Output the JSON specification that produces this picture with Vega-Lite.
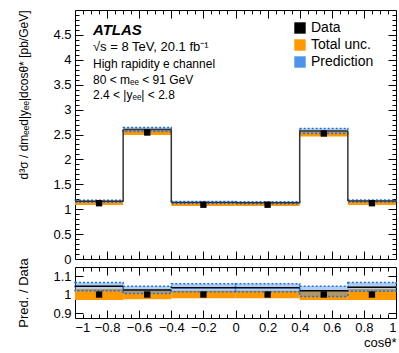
{
  "$schema": "https://vega.github.io/schema/vega-lite/v6.json",
  "padding": {"left": 17, "top": 9, "right": 6, "bottom": 2},
  "background": "white",
  "bounds": "flush",
  "config": {
    "font": "Liberation Sans",
    "view": {"stroke": "black", "strokeWidth": 1},
    "axis": {"labelFont": "Liberation Sans", "labelFontSize": 13, "labelColor": "black", "tickColor": "black", "domain": false, "grid": false, "titleFont": "Liberation Sans", "titleFontWeight": "normal", "titleColor": "black", "format": "~g", "minExtent": 0},
    "legend": {"labelFont": "Liberation Sans"}
  },
  "spacing": 8,
  "data": {"values": [
    {"lo": -1.0, "hi": -0.7, "c": -0.85, "data": 1.12, "unc_lo": 1.085, "unc_hi": 1.155, "pred": 1.16, "pred_lo": 1.14, "pred_hi": 1.18, "r_pred": 1.045, "r_pred_lo": 1.02, "r_pred_hi": 1.065, "r_unc_lo": 0.97, "r_unc_hi": 1.03},
    {"lo": -0.7, "hi": -0.4, "c": -0.55, "data": 2.54, "unc_lo": 2.49, "unc_hi": 2.59, "pred": 2.6, "pred_lo": 2.56, "pred_hi": 2.64, "r_pred": 1.024, "r_pred_lo": 1.005, "r_pred_hi": 1.045, "r_unc_lo": 0.975, "r_unc_hi": 1.02},
    {"lo": -0.4, "hi": 0.0, "c": -0.2, "data": 1.09, "unc_lo": 1.065, "unc_hi": 1.115, "pred": 1.135, "pred_lo": 1.115, "pred_hi": 1.155, "r_pred": 1.037, "r_pred_lo": 1.015, "r_pred_hi": 1.058, "r_unc_lo": 0.98, "r_unc_hi": 1.02},
    {"lo": 0.0, "hi": 0.4, "c": 0.2, "data": 1.09, "unc_lo": 1.065, "unc_hi": 1.115, "pred": 1.13, "pred_lo": 1.11, "pred_hi": 1.15, "r_pred": 1.037, "r_pred_lo": 1.015, "r_pred_hi": 1.058, "r_unc_lo": 0.98, "r_unc_hi": 1.02},
    {"lo": 0.4, "hi": 0.7, "c": 0.55, "data": 2.52, "unc_lo": 2.46, "unc_hi": 2.58, "pred": 2.57, "pred_lo": 2.52, "pred_hi": 2.62, "r_pred": 1.02, "r_pred_lo": 0.99, "r_pred_hi": 1.045, "r_unc_lo": 0.97, "r_unc_hi": 1.025},
    {"lo": 0.7, "hi": 1.0, "c": 0.85, "data": 1.12, "unc_lo": 1.085, "unc_hi": 1.155, "pred": 1.165, "pred_lo": 1.145, "pred_hi": 1.185, "r_pred": 1.04, "r_pred_lo": 1.018, "r_pred_hi": 1.065, "r_unc_lo": 0.97, "r_unc_hi": 1.03}
  ]},
  "vconcat": [
    {
      "width": 321,
      "height": 249,
      "resolve": {"axis": {"x": "independent", "y": "independent"}},
      "layer": [
        {
          "mark": {"type": "rect", "fill": "#ff9900", "stroke": null},
          "encoding": {
            "x": {"field": "lo", "type": "quantitative", "scale": {"domain": [-1, 1], "nice": false, "zero": false},
                  "axis": {"orient": "bottom", "values": [-0.8, -0.6, -0.4, -0.2, 0, 0.2, 0.4, 0.6, 0.8], "labels": false, "tickSize": -8, "title": null}},
            "x2": {"field": "hi"},
            "y": {"field": "unc_lo", "type": "quantitative", "scale": {"domain": [0, 5], "nice": false},
                  "axis": {"orient": "left", "values": [0, 0.5, 1, 1.5, 2, 2.5, 3, 3.5, 4, 4.5], "tickSize": -8, "labelPadding": 12, "title": "d³σ / dmₑₑd|yₑₑ|dcosθ*  [pb/GeV]", "titleFontSize": 12, "titleAnchor": "end", "titlePadding": 22}},
            "y2": {"field": "unc_hi"},
            "color": {"datum": "Total unc.", "type": "nominal", "scale": {"domain": ["Data", "Total unc.", "Prediction"], "range": ["black", "#ff9900", "#4d94ea"]},
                      "legend": {"orient": "none", "legendX": 218, "legendY": 11, "title": null, "symbolType": "square", "symbolSize": 130, "labelFontSize": 14, "rowPadding": 3, "symbolStrokeWidth": 0, "labelColor": "black", "labelOffset": 4}}
          }
        },
        {
          "mark": {"type": "rect", "fillOpacity": 0.45, "stroke": "#1f6fdf", "strokeDash": [2, 2], "strokeWidth": 1.5},
          "encoding": {
            "x": {"field": "lo", "type": "quantitative",
                  "axis": {"orient": "top", "values": [-0.8, -0.6, -0.4, -0.2, 0, 0.2, 0.4, 0.6, 0.8], "labels": false, "tickSize": -8, "title": null}},
            "x2": {"field": "hi"},
            "y": {"field": "pred_lo", "type": "quantitative",
                  "axis": {"orient": "right", "values": [0, 0.5, 1, 1.5, 2, 2.5, 3, 3.5, 4, 4.5], "labels": false, "tickSize": -8, "title": null}},
            "y2": {"field": "pred_hi"},
            "color": {"datum": "Prediction", "type": "nominal"}
          }
        },
        {
          "mark": {"type": "rule", "color": "#333", "strokeWidth": 1.5},
          "encoding": {
            "x": {"field": "lo", "type": "quantitative",
                  "axis": {"orient": "bottom", "values": [-0.95, -0.9, -0.85, -0.75, -0.7, -0.65, -0.55, -0.5, -0.45, -0.35, -0.3, -0.25, -0.15, -0.1, -0.05, 0.05, 0.1, 0.15, 0.25, 0.3, 0.35, 0.45, 0.5, 0.55, 0.65, 0.7, 0.75, 0.85, 0.9, 0.95], "labels": false, "tickSize": -4, "title": null}},
            "x2": {"field": "hi"},
            "y": {"field": "pred", "type": "quantitative",
                  "axis": {"orient": "left", "values": [0.1, 0.2, 0.3, 0.4, 0.6, 0.7, 0.8, 0.9, 1.1, 1.2, 1.3, 1.4, 1.6, 1.7, 1.8, 1.9, 2.1, 2.2, 2.3, 2.4, 2.6, 2.7, 2.8, 2.9, 3.1, 3.2, 3.3, 3.4, 3.6, 3.7, 3.8, 3.9, 4.1, 4.2, 4.3, 4.4, 4.6, 4.7, 4.8, 4.9], "labels": false, "tickSize": -4, "title": null}}
          }
        },
        {
          "transform": [
            {"window": [{"op": "lead", "field": "pred", "as": "pred_next"}], "sort": [{"field": "lo"}]},
            {"filter": "datum.pred_next != null"}
          ],
          "mark": {"type": "rule", "color": "#333", "strokeWidth": 1.5},
          "encoding": {
            "x": {"field": "hi", "type": "quantitative",
                  "axis": {"orient": "top", "values": [-0.95, -0.9, -0.85, -0.75, -0.7, -0.65, -0.55, -0.5, -0.45, -0.35, -0.3, -0.25, -0.15, -0.1, -0.05, 0.05, 0.1, 0.15, 0.25, 0.3, 0.35, 0.45, 0.5, 0.55, 0.65, 0.7, 0.75, 0.85, 0.9, 0.95], "labels": false, "tickSize": -4, "title": null}},
            "y": {"field": "pred", "type": "quantitative",
                  "axis": {"orient": "right", "values": [0.1, 0.2, 0.3, 0.4, 0.6, 0.7, 0.8, 0.9, 1.1, 1.2, 1.3, 1.4, 1.6, 1.7, 1.8, 1.9, 2.1, 2.2, 2.3, 2.4, 2.6, 2.7, 2.8, 2.9, 3.1, 3.2, 3.3, 3.4, 3.6, 3.7, 3.8, 3.9, 4.1, 4.2, 4.3, 4.4, 4.6, 4.7, 4.8, 4.9], "labels": false, "tickSize": -4, "title": null}},
            "y2": {"field": "pred_next"}
          }
        },
        {
          "mark": {"type": "point", "shape": "square", "filled": true, "size": 40, "opacity": 1},
          "encoding": {
            "x": {"field": "c", "type": "quantitative", "axis": null},
            "y": {"field": "data", "type": "quantitative", "axis": null},
            "color": {"datum": "Data", "type": "nominal"}
          }
        },
        {
          "data": {"values": [{}]},
          "mark": {"type": "text", "text": "ATLAS", "fontSize": 15, "fontWeight": "bold", "fontStyle": "italic", "align": "left", "baseline": "alphabetic", "font": "Liberation Sans"},
          "encoding": {"x": {"datum": -0.888, "type": "quantitative", "axis": null}, "y": {"datum": 4.5, "type": "quantitative", "axis": null}}
        },
        {
          "data": {"values": [{}]},
          "mark": {"type": "text", "text": "√s = 8 TeV, 20.1 fb⁻¹", "fontSize": 13, "align": "left", "baseline": "alphabetic", "font": "Liberation Sans"},
          "encoding": {"x": {"datum": -0.888, "type": "quantitative", "axis": null}, "y": {"datum": 4.18, "type": "quantitative", "axis": null}}
        },
        {
          "data": {"values": [{}]},
          "mark": {"type": "text", "text": "High rapidity e channel", "fontSize": 12, "align": "left", "baseline": "alphabetic", "font": "Liberation Sans"},
          "encoding": {"x": {"datum": -0.888, "type": "quantitative", "axis": null}, "y": {"datum": 3.84, "type": "quantitative", "axis": null}}
        },
        {
          "data": {"values": [{}]},
          "mark": {"type": "text", "text": "80 < mₑₑ < 91 GeV", "fontSize": 12, "align": "left", "baseline": "alphabetic", "font": "Liberation Sans"},
          "encoding": {"x": {"datum": -0.888, "type": "quantitative", "axis": null}, "y": {"datum": 3.51, "type": "quantitative", "axis": null}}
        },
        {
          "data": {"values": [{}]},
          "mark": {"type": "text", "text": "2.4 < |yₑₑ| < 2.8", "fontSize": 12, "align": "left", "baseline": "alphabetic", "font": "Liberation Sans"},
          "encoding": {"x": {"datum": -0.888, "type": "quantitative", "axis": null}, "y": {"datum": 3.21, "type": "quantitative", "axis": null}}
        }
      ]
    },
    {
      "width": 321,
      "height": 51,
      "resolve": {"axis": {"x": "independent", "y": "independent"}},
      "layer": [
        {
          "mark": {"type": "rect", "fill": "#ff9900", "stroke": null},
          "encoding": {
            "x": {"field": "lo", "type": "quantitative", "scale": {"domain": [-1, 1], "nice": false, "zero": false},
                  "axis": {"orient": "bottom", "values": [-1, -0.8, -0.6, -0.4, -0.2, 0, 0.2, 0.4, 0.6, 0.8, 1], "tickSize": -8, "labelPadding": 11, "title": "cosθ*", "titleFontSize": 13, "titleAnchor": "end", "titlePadding": 2}},
            "x2": {"field": "hi"},
            "y": {"field": "r_unc_lo", "type": "quantitative", "scale": {"domain": [0.873, 1.149], "nice": false, "zero": false},
                  "axis": {"orient": "left", "values": [0.9, 1, 1.1], "tickSize": -8, "labelPadding": 12, "title": "Pred. / Data", "titleFontSize": 13, "titlePadding": 22}},
            "y2": {"field": "r_unc_hi"}
          }
        },
        {
          "mark": {"type": "rect", "fill": "#4d94ea", "fillOpacity": 0.45, "stroke": "#1f6fdf", "strokeDash": [2, 2], "strokeWidth": 1.5},
          "encoding": {
            "x": {"field": "lo", "type": "quantitative",
                  "axis": {"orient": "top", "values": [-0.8, -0.6, -0.4, -0.2, 0, 0.2, 0.4, 0.6, 0.8], "labels": false, "tickSize": -8, "title": null}},
            "x2": {"field": "hi"},
            "y": {"field": "r_pred_lo", "type": "quantitative",
                  "axis": {"orient": "right", "values": [0.9, 1, 1.1], "labels": false, "tickSize": -8, "title": null}},
            "y2": {"field": "r_pred_hi"}
          }
        },
        {
          "mark": {"type": "rule", "color": "black", "strokeWidth": 1.5},
          "encoding": {
            "x": {"field": "lo", "type": "quantitative",
                  "axis": {"orient": "bottom", "values": [-0.95, -0.9, -0.85, -0.75, -0.7, -0.65, -0.55, -0.5, -0.45, -0.35, -0.3, -0.25, -0.15, -0.1, -0.05, 0.05, 0.1, 0.15, 0.25, 0.3, 0.35, 0.45, 0.5, 0.55, 0.65, 0.7, 0.75, 0.85, 0.9, 0.95], "labels": false, "tickSize": -4, "title": null}},
            "x2": {"field": "hi"},
            "y": {"field": "r_pred", "type": "quantitative", "axis": null}
          }
        },
        {
          "mark": {"type": "point", "shape": "square", "filled": true, "size": 40, "color": "black", "opacity": 1},
          "encoding": {
            "x": {"field": "c", "type": "quantitative",
                  "axis": {"orient": "top", "values": [-0.95, -0.9, -0.85, -0.75, -0.7, -0.65, -0.55, -0.5, -0.45, -0.35, -0.3, -0.25, -0.15, -0.1, -0.05, 0.05, 0.1, 0.15, 0.25, 0.3, 0.35, 0.45, 0.5, 0.55, 0.65, 0.7, 0.75, 0.85, 0.9, 0.95], "labels": false, "tickSize": -4, "title": null}},
            "y": {"datum": 1, "type": "quantitative", "axis": null}
          }
        }
      ]
    }
  ]
}
